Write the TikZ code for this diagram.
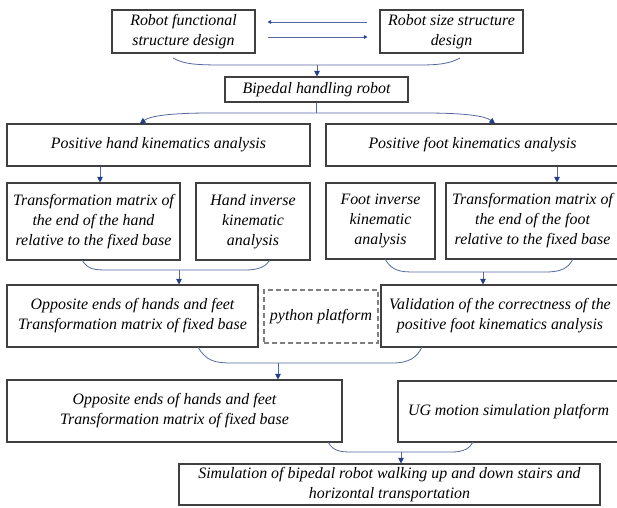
\documentclass[tikz,border=0pt]{standalone}
\usepackage{fontspec}
\setmainfont{Liberation Serif}
\usetikzlibrary{arrows.meta}
\definecolor{boxgray}{HTML}{404040}
\definecolor{linkblue}{HTML}{56699F}
\definecolor{tipblue}{HTML}{1F3D8A}
\tikzset{
  box/.style={draw=boxgray, line width=1.1pt, align=center, inner sep=2pt,
    font=\fontsize{15.9}{20}\selectfont\itshape},
  link/.style={draw=linkblue, line width=0.8pt},
  tip/.style={link, -{Triangle[width=5.5pt,length=5.5pt,color=tipblue]}},
  smalltip/.style={link, -{Triangle[width=3.5pt,length=3.5pt,color=tipblue]}}
}
\begin{document}
\begin{tikzpicture}[x=1pt,y=-1pt]
\useasboundingbox (0,0) rectangle (617,507);
\clip (0,0) rectangle (617,507);
%\draw (0,0) rectangle (617,507);

\draw (183.5,31.5) node[box, minimum width=143, minimum height=43] (func) {Robot functional\\structure design};
\draw (451.5,31.5) node[box, minimum width=143, minimum height=43] (size) {Robot size structure\\design};
\draw (316.5,89.5) node[box, minimum width=183, minimum height=25] (robot) {Bipedal handling robot};
\draw (158.5,145) node[box, minimum width=303, minimum height=42] (hand) {Positive hand kinematics analysis};
\draw (472.5,145) node[box, minimum width=293, minimum height=42] (foot) {Positive foot kinematics analysis};
\draw (93.5,221.5) node[box, minimum width=173, minimum height=77] (handT) {Transformation matrix of\\the end of the hand\\relative to the fixed base};
\draw (253,221.5) node[box, minimum width=114, minimum height=77] (handI) {Hand inverse\\kinematic\\analysis};
\draw (380.5,221) node[box, minimum width=109, minimum height=76] (footI) {Foot inverse\\kinematic\\analysis};
\draw (532.5,221) node[box, minimum width=173, minimum height=76] (footT) {Transformation matrix of\\the end of the foot\\relative to the fixed base};
\draw (132.5,316) node[box, minimum width=251, minimum height=62] (ends) {Opposite ends of hands and feet\\Transformation matrix of fixed base};
\draw (321,316.5) node[box, draw=gray, dash pattern=on 5pt off 3pt, minimum width=114, minimum height=53] (python) {python platform};
\draw (500,316) node[box, minimum width=238, minimum height=62] (valid) {Validation of the correctness of the\\positive foot kinematics analysis};
\draw (174.5,411) node[box, minimum width=335, minimum height=62] (ends2) {Opposite ends of hands and feet\\Transformation matrix of fixed base};
\draw (508.5,411.5) node[box, minimum width=221, minimum height=61] (ug) {UG motion simulation platform};
\draw (389.5,484.5) node[box, minimum width=421, minimum height=41] (sim) {Simulation of bipedal robot walking up and down stairs and\\horizontal transportation};

\draw[smalltip, shorten <=12pt, shorten >=12pt] ([yshift=9.5pt]size.west) -- ([yshift=9.5pt]func.east);
\draw[smalltip, shorten <=12pt, shorten >=12pt] ([yshift=-5.5pt]func.east) -- ([yshift=-5.5pt]size.west);

\coordinate (m1) at (317,65);
\draw[link] (173,58) .. controls (185,65) and (200,65) .. (230,65) -- (420,65) .. controls (445,65) and (452,62) .. (460,58);
\draw[tip] (m1) -- (robot.north -| m1);

\coordinate (split) at (316.5,113);
\draw[link] (robot.south) -- (split);
\draw[tip] (split) -- (210,113) .. controls (170,113) and (150,116) .. (hand.north -| 140,0);
\draw[tip] (split) -- (425,113) .. controls (465,113) and (485,116) .. (foot.north -| 495,0);

\draw[tip] (hand.south -| 100,0) -- (handT.north -| 100,0);
\draw[tip] (foot.south -| 557,0) -- (footT.north -| 557,0);

\coordinate (m2) at (179,270);
\draw[link] (82,260) .. controls (88,270) and (95,270) .. (110,270) -- (245,270) .. controls (260,270) and (266,266) .. (270,260);
\draw[tip] (m2) -- (ends.north -| m2);

\coordinate (m3) at (483,272);
\draw[link] (385,259) .. controls (392,271) and (400,272) .. (415,272) -- (545,272) .. controls (562,272) and (568,268) .. (573,259);
\draw[tip] (m3) -- (valid.north -| m3);

\coordinate (m4) at (278,363);
\draw[link] (198,347) .. controls (206,361) and (215,363) .. (232,363) -- (392,363) .. controls (410,363) and (417,357) .. (422,347);
\draw[tip] (m4) -- (ends2.north -| m4);

\coordinate (m5) at (401,452);
\draw[link] (328,442) .. controls (333,451) and (340,452) .. (352,452) -- (452,452) .. controls (464,452) and (470,448) .. (473,442);
\draw[tip] (m5) -- (sim.north -| m5);
\end{tikzpicture}
\end{document}
